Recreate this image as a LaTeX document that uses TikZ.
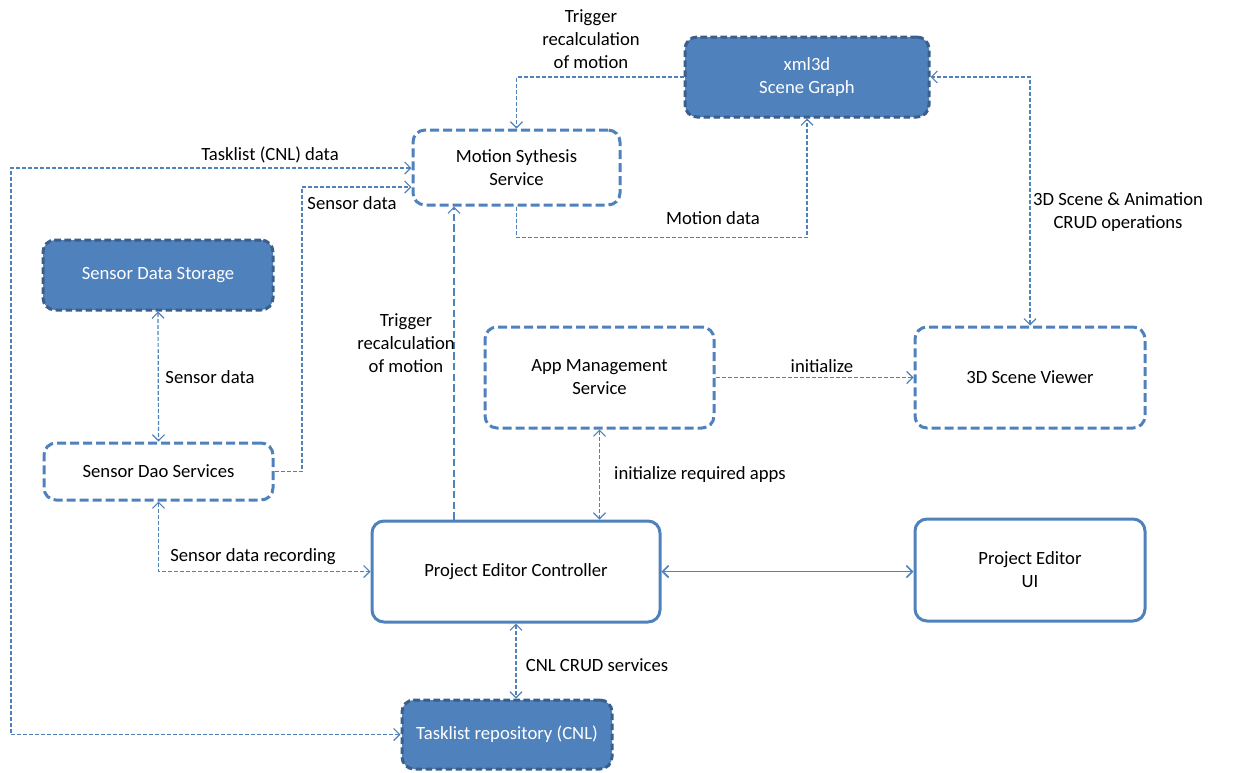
\documentclass[tikz,border=0pt]{standalone}
\usepackage{fontspec}
\setmainfont{Carlito}
\usetikzlibrary{arrows.meta}
\definecolor{boxblue}{HTML}{4F81BD}
\definecolor{boxdark}{HTML}{3A5F8B}
\begin{document}
\begin{tikzpicture}[x=0.75pt,y=-0.75pt,
  font=\fontsize{14pt}{17.25pt}\selectfont,
  >={Straight Barb[length=4.5pt, width=9pt]},
  every node/.style={inner sep=0pt, align=center},
  openbox/.style={draw=boxblue, line width=2.25pt, dash pattern=on 6.75pt off 3pt,
    rounded corners=9pt, fill=white},
  solidbox/.style={draw=boxblue, line width=2.25pt, rounded corners=9pt, fill=white},
  storebox/.style={draw=boxdark, line width=2.25pt, dash pattern=on 5pt off 2.5pt,
    rounded corners=9pt, fill=boxblue, text=white},
  link/.style={draw=boxblue, line width=0.9pt, dash pattern=on 3pt off 1.5pt},
  longlink/.style={draw=boxblue, line width=0.9pt, dash pattern=on 5.5pt off 2.5pt},
  solidlink/.style={draw=boxblue, line width=1.2pt},
  lbl/.style={text=black}
]
\useasboundingbox (0,0) rectangle (1233,772);

% ---- components ----
\node[storebox, minimum width=183pt, minimum height=60pt] (xml3d) at (807,77) {xml3d\\Scene Graph};
\node[openbox, minimum width=155.25pt, minimum height=56.25pt] (motion) at (516.5,167.5) {Motion Sythesis\\Service};
\node[storebox, minimum width=172.5pt, minimum height=52.5pt] (storage) at (158,275) {Sensor Data Storage};
\node[openbox, minimum width=171.75pt, minimum height=42.75pt] (dao) at (158.5,471.5) {Sensor Dao Services};
\node[openbox, minimum width=171.75pt, minimum height=75.75pt] (app) at (599.5,377.5) {App Management\\Service};
\node[openbox, minimum width=172.5pt, minimum height=75.75pt] (viewer) at (1030,377.5) {3D Scene Viewer};
\node[solidbox, minimum width=216pt, minimum height=75.75pt] (pec) at (516,571.5) {Project Editor Controller};
\node[solidbox, minimum width=172.5pt, minimum height=76.5pt] (ui) at (1030,570) {Project Editor\\UI};
\node[storebox, minimum width=157.5pt, minimum height=51.75pt] (repo) at (507,734.5) {Tasklist repository (CNL)};

% ---- routing points ----
\coordinate (tl) at (11,168);
\coordinate (sd) at (302,187);
\coordinate (trig) at (454,0);

% ---- connectors ----
\draw[link, ->] (xml3d.west) -| (motion.north);
\draw[link, ->] (motion.south) -- ++(0,31) -| (xml3d.south);
\draw[link, <->] (viewer.north) |- (xml3d.east);
\draw[link, <->] (repo.west) -| (tl) -- (tl -| motion.west);
\draw[link, ->] (dao.east) -| (sd) -- (sd -| motion.west);
\draw[link, <->] (storage.south) -- (dao.north);
\draw[link, <->] (dao.south) |- (pec.west);
\draw[longlink, ->] (pec.north -| trig) -- (trig |- motion.south);
\draw[link, <->] (app.south) -- (app.south |- pec.north);
\draw[link, ->] (app.east) -- (viewer.west);
\draw[solidlink, <->] (pec.east) -- (pec.east -| ui.west);
\draw[link, <->] (pec.south) -- (pec.south |- repo.north);

% ---- labels ----
\node[lbl] (ltrigtop) at (591,39) {Trigger\\recalculation\\of motion};
\node[lbl] (lmotion) at (713,218) {Motion data};
\node[lbl] (lcrud3d) at (1118,212) {3D Scene \& Animation\\CRUD operations};
\node[lbl] (ltask) at (270,155) {Tasklist (CNL) data};
\node[lbl] (lsensor1) at (352,203) {Sensor data};
\node[lbl] (lsensor2) at (210,377) {Sensor data};
\node[lbl] (lrecord) at (253,557) {Sensor data recording};
\node[lbl] (ltrigmid) at (406,343) {Trigger\\recalculation\\of motion};
\node[lbl] (linitreq) at (700,475) {initialize required apps};
\node[lbl] (linit) at (822,366) {initialize};
\node[lbl] (lcnl) at (597,665) {CNL CRUD services};
\end{tikzpicture}
\end{document}
